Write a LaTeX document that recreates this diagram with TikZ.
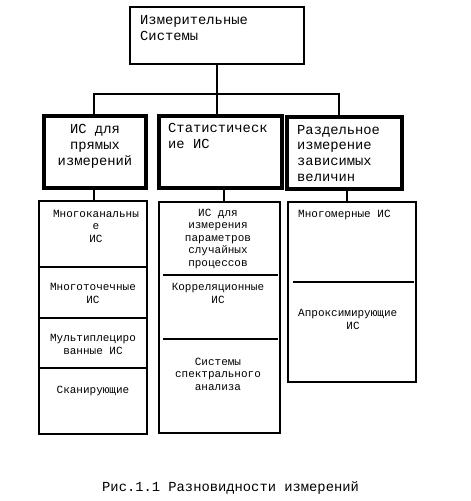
\documentclass[tikz,border=0pt]{standalone}
\usepackage{fontspec}
\setmainfont{Liberation Mono}
\usetikzlibrary{fit}
\begin{document}
\begin{tikzpicture}[x=1pt,y=-1pt,
  hd/.style={font=\fontsize{13.8}{15.8}\selectfont, inner sep=0},
  sm/.style={font=\fontsize{11}{12.4}\selectfont, inner sep=0},
  frame/.style={draw, line width=2.6pt, inner sep=0},
  thickframe/.style={draw, line width=3.4pt, inner sep=0},
  wire/.style={line width=1.8pt},
  divider/.style={line width=2pt}]
\useasboundingbox (0,0) rectangle (471,501);
% top
\node[frame, fit={(130,7) (304,64)}] (top) {};
\node[hd, anchor=base west, align=left] (toptxt) at (140,40.5) {Измерительные\\Системы};
% middle level
\node[thickframe, fit={(44,116) (146,188)}] (b1) {};
\node[thickframe, fit={(159,116) (282,188)}] (b2) {};
\node[thickframe, fit={(287,117) (402,189)}] (b3) {};
\node[hd, anchor=base, align=center] (b1txt) at (95,165) {ИС для\\прямых\\измерений};
\node[hd, anchor=base west, align=left] (b2txt) at (168,148.5) {Статистическ\\ие ИС};
\node[hd, anchor=base west, align=left] (b3txt) at (297,181.5) {Раздельное\\измерение\\зависимых\\величин};
% lower level
\node[frame, fit={(39,201) (147,434)}] (l1) {};
\node[frame, fit={(159,202) (280,433)}] (l2) {};
\node[frame, fit={(288,202) (416,382)}] (l3) {};
\draw[divider] (l1.west |- 0,267) -- (l1.east |- 0,267);
\draw[divider] (l1.west |- 0,318) -- (l1.east |- 0,318);
\draw[divider] (l1.west |- 0,368) -- (l1.east |- 0,368);
\draw[divider] (163,275) -- (278,275);
\draw[divider] (163,339) -- (278,339);
\draw[divider] (293,282) -- (414,282);
% lower texts
\node[sm, anchor=base, align=center] (t11) at (96,242) {Многоканальны\\е\\ИС};
\node[sm, anchor=base, align=center] (t12) at (93,303) {Многоточечные\\ИС};
\node[sm, anchor=base, align=center] (t13) at (93,354) {Мультиплециро\\ванные ИС};
\node[sm, anchor=base, align=center] (t14) at (93,393) {Сканирующие};
\node[sm, anchor=base, align=center] (t21) at (218,266) {ИС для\\измерения\\параметров\\случайных\\процессов};
\node[sm, anchor=base, align=center] (t22) at (218,303) {Корреляционные\\ИС};
\node[sm, anchor=base, align=center] (t23) at (218,390) {Системы\\спектрального\\анализа};
\node[sm, anchor=base west] (t31) at (298,217) {Многомерные ИС};
\node[sm, anchor=base west] (t32) at (298,316) {Апроксимирующие};
\node[sm, anchor=base] (t33) at (353,329) {ИС};
% connectors
\coordinate (j1) at (94,94);
\coordinate (j2) at (217,94);
\coordinate (j3) at (339,94);
\draw[wire] (top.south) -- (top.south |- j2);
\draw[wire] (b1.north -| j1) -- (j1) -- (j3) -- (b3.north -| j3);
\draw[wire] (j2) -- (b2.north -| j2);
\coordinate (k1) at (94,195);
\coordinate (k2) at (224,195);
\coordinate (k3) at (347,195);
\draw[wire] (b1.south -| k1) -- (l1.north -| k1);
\draw[wire] (b2.south -| k2) -- (l2.north -| k2);
\draw[wire] (b3.south -| k3) -- (l3.north -| k3);
% caption
\node[hd, anchor=base west] (cap) at (102,491) {Рис.1.1 Разновидности измерений};
\end{tikzpicture}
\end{document}
